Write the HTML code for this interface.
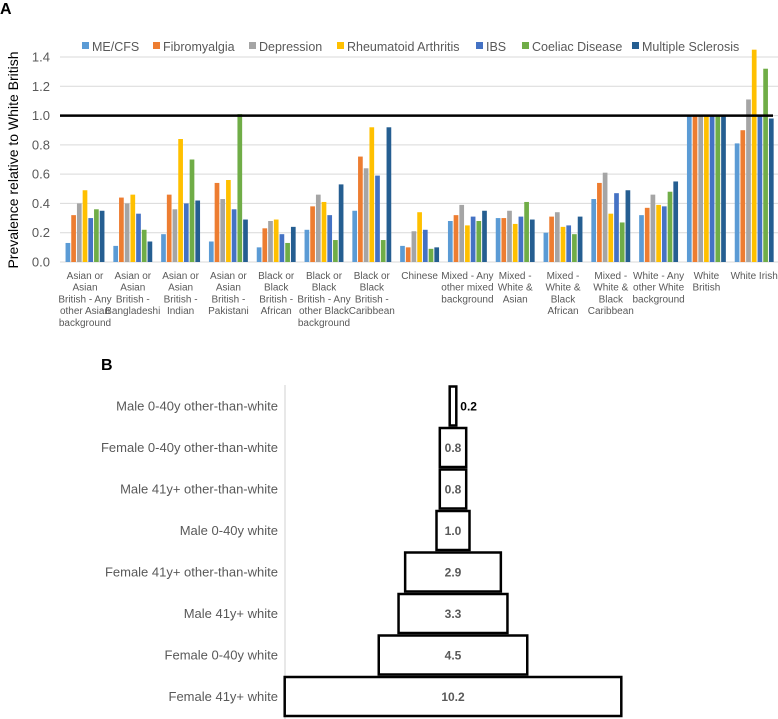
<!DOCTYPE html>
<html><head><meta charset="utf-8">
<style>
html,body{margin:0;padding:0;background:#fff;}
svg{display:block;font-family:"Liberation Sans",sans-serif;}
</style></head>
<body>
<svg id="chart" width="778" height="719" viewBox="0 0 778 719" xmlns="http://www.w3.org/2000/svg">
<text x="0" y="14" font-size="16" font-weight="bold">A</text>
<text x="101" y="370" font-size="16" font-weight="bold">B</text>
<g id="a"></g>
<g id="b"></g>
</svg>
<script>
const categories = [
 ["Asian or","Asian","British - Any","other Asian","background"],
 ["Asian or","Asian","British -","Bangladeshi"],
 ["Asian or","Asian","British -","Indian"],
 ["Asian or","Asian","British -","Pakistani"],
 ["Black or","Black","British -","African"],
 ["Black or","Black","British - Any","other Black","background"],
 ["Black or","Black","British -","Caribbean"],
 ["Chinese"],
 ["Mixed - Any","other mixed","background"],
 ["Mixed -","White &","Asian"],
 ["Mixed -","White &","Black","African"],
 ["Mixed -","White &","Black","Caribbean"],
 ["White - Any","other White","background"],
 ["White","British"],
 ["White Irish"]
];
const seriesNames = ["ME/CFS","Fibromyalgia","Depression","Rheumatoid Arthritis","IBS","Coeliac Disease","Multiple Sclerosis"];
const seriesColors = ["#5b9bd5","#ed7d31","#a5a5a5","#ffc000","#4472c4","#70ad47","#255e91"];
const meCfs =        [0.13,0.11,0.19,0.14,0.10,0.22,0.35,0.11,0.28,0.30,0.20,0.43,0.32,1.0,0.81];
const fibromyalgia = [0.32,0.44,0.46,0.54,0.23,0.38,0.72,0.10,0.32,0.30,0.31,0.54,0.37,1.0,0.90];
const depression =   [0.40,0.40,0.36,0.43,0.28,0.46,0.64,0.21,0.39,0.35,0.34,0.61,0.46,1.0,1.11];
const rheumatoid =   [0.49,0.46,0.84,0.56,0.29,0.41,0.92,0.34,0.25,0.26,0.24,0.33,0.39,1.0,1.45];
const ibs =          [0.30,0.33,0.40,0.36,0.19,0.32,0.59,0.22,0.31,0.31,0.25,0.47,0.38,1.0,1.00];
const coeliac =      [0.36,0.22,0.70,1.01,0.13,0.15,0.15,0.09,0.28,0.41,0.19,0.27,0.48,1.0,1.32];
const ms =           [0.35,0.14,0.42,0.29,0.24,0.53,0.92,0.10,0.35,0.29,0.31,0.49,0.55,1.0,0.98];
const yTicks = [0,0.2,0.4,0.6,0.8,1.0,1.2,1.4];
const yTickLabels = ["0.0","0.2","0.4","0.6","0.8","1.0","1.2","1.4"];
const referenceLine = 1.0;

const funnelLabels = ["Male 0-40y other-than-white","Female 0-40y other-than-white","Male 41y+ other-than-white","Male 0-40y white","Female 41y+ other-than-white","Male 41y+ white","Female 0-40y white","Female 41y+ white"];
const funnelValues = [0.2,0.8,0.8,1.0,2.9,3.3,4.5,10.2];
const funnelValueLabels = ["0.2","0.8","0.8","1.0","2.9","3.3","4.5","10.2"];

const NS="http://www.w3.org/2000/svg";
function mk(parent,tag,attrs,text){const e=document.createElementNS(NS,tag);for(const k in attrs)e.setAttribute(k,attrs[k]);if(text!==undefined)e.textContent=text;parent.appendChild(e);return e;}

// Panel A
const A=document.getElementById('a');
const series=[meCfs,fibromyalgia,depression,rheumatoid,ibs,coeliac,ms];
const plotL=60, plotR=778, y0=262, yPer=(262-57)/1.4;
const yScale=v=>y0-v*yPer;
const groupW=47.8, firstC=85;
const xCenter=i=>firstC+i*groupW;
const pitch=5.7, barW=4.7;
yTicks.forEach((t,i)=>{
  const gl=mk(A,'line',{x1:plotL,x2:plotR,y1:yScale(t),y2:yScale(t),stroke:'#d9d9d9','stroke-width':1});
  
  
  const tl=mk(A,'text',{x:50,y:yScale(t)+4.5,'font-size':13,fill:'#595959','text-anchor':'end'},yTickLabels[i]);
  
  
});
const yt=mk(A,'text',{x:0,y:0,'font-size':14,fill:'#000','text-anchor':'middle',transform:'translate(18,160) rotate(-90)'},'Prevalence relative to White British');


series.forEach((vals,s)=>{
  vals.forEach((v,i)=>{
    const x=xCenter(i)-3.5*pitch+s*pitch+(pitch-barW)/2;
    const r=mk(A,'rect',{x:x,y:yScale(v),width:barW,height:y0-yScale(v),fill:seriesColors[s]});
    
    
  });
});
const rl=mk(A,'line',{x1:plotL,x2:773,y1:yScale(referenceLine),y2:yScale(referenceLine),stroke:'#000','stroke-width':2.5});


categories.forEach((lines,i)=>{
  lines.forEach((ln,j)=>{
    const t=mk(A,'text',{x:xCenter(i),y:279+j*11.7,'font-size':10,fill:'#595959','text-anchor':'middle'},ln);
    
    
  });
});
const legX=[82,153,249,337,476,522,632];
seriesNames.forEach((n,s)=>{
  const g=mk(A,'g',{});
  
  
  mk(g,'rect',{x:legX[s],y:42,width:7,height:7,fill:seriesColors[s]});
  mk(g,'text',{x:legX[s]+10,y:51,'font-size':12.5,fill:'#595959'},n);
});

// Panel B
const B=document.getElementById('b');
const cx=453, unit=33, rowTop=386.5, rowH=41.5, boxH=39;
const ax=mk(B,'line',{x1:285,x2:285,y1:385,y2:719,stroke:'#d0d0d0','stroke-width':1});


funnelValues.forEach((v,i)=>{
  const w=Math.max(v*unit,6);
  const y=rowTop+i*rowH;
  const r=mk(B,'rect',{x:cx-w/2,y:y,width:w,height:boxH,fill:'#fff',stroke:'#000','stroke-width':2.5});
  
  
  const l=mk(B,'text',{x:278,y:y+boxH/2+4.5,'font-size':13,fill:'#595959','text-anchor':'end'},funnelLabels[i]);
  
  
  let vl;
  if(v*unit<20){
    vl=mk(B,'text',{x:cx+w/2+4,y:y+boxH/2+4.5,'font-size':12,'font-weight':'bold',fill:'#000'},funnelValueLabels[i]);
  } else {
    vl=mk(B,'text',{x:cx,y:y+boxH/2+4.5,'font-size':12,'font-weight':'bold',fill:'#595959','text-anchor':'middle'},funnelValueLabels[i]);
  }
  
  
});
</script>
</body></html>
